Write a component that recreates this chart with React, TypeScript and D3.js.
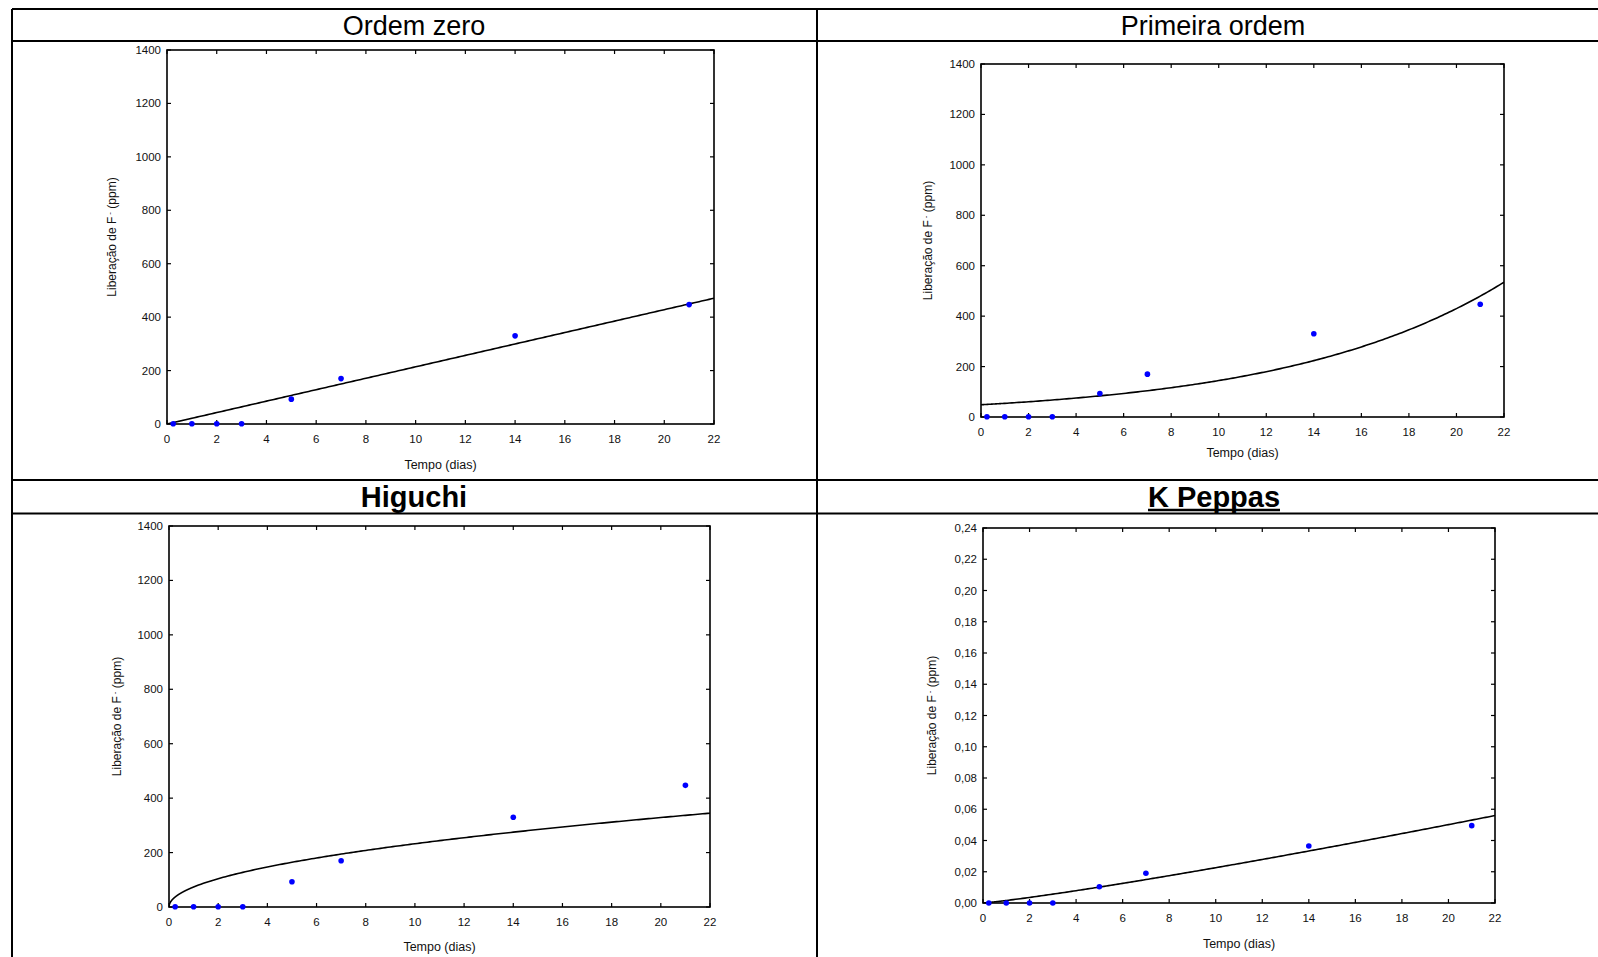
import React from 'react';
import * as d3 from 'd3';

// ---- data ----
const days = [0.25, 1, 2, 3, 5, 7, 14, 21];
const releasePpm = [1, 1, 1, 1, 93, 170, 330, 447];
const peppasRelease = [0, 0, 0, 0, 0.0104, 0.019, 0.0365, 0.0495];
const xTicks = [0, 2, 4, 6, 8, 10, 12, 14, 16, 18, 20, 22];
const ppmTicks = [0, 200, 400, 600, 800, 1000, 1200, 1400];
const peppasTicks = [0, 0.02, 0.04, 0.06, 0.08, 0.1, 0.12, 0.14, 0.16, 0.18, 0.2, 0.22, 0.24];
const panelTitles = ['Ordem zero', 'Primeira ordem', 'Higuchi', 'K Peppas'];
const xAxisTitle = 'Tempo (dias)';

// fitted model parameters
const zeroOrderSlope = 21.4;
const firstOrderC0 = 48.6;
const firstOrderK = 0.109;
const higuchiK = 73.5;
const peppasK = 0.0016;
const peppasN = 1.15;

const models: ((t: number) => number)[] = [
  (t) => zeroOrderSlope * t,
  (t) => firstOrderC0 * Math.exp(firstOrderK * t),
  (t) => higuchiK * Math.sqrt(t),
  (t) => peppasK * Math.pow(t, peppasN),
];

// ---- layout ----
const W = 1598;
const H = 957;
const FONT = '"Liberation Sans", Arial, Helvetica, sans-serif';

type Layout = {
  l: number; r: number; t: number; b: number;
  tickLabelY: number; xTitleY: number; yTitleX: number;
  titleX: number; titleY: number; bold: boolean; underline: boolean; titleSize: number;
};

const layouts: Layout[] = [
  { l: 167, r: 714, t: 50, b: 424, tickLabelY: 443, xTitleY: 469, yTitleX: 116, titleX: 414, titleY: 35, bold: false, underline: false, titleSize: 27 },
  { l: 981, r: 1504, t: 64, b: 417, tickLabelY: 436, xTitleY: 457, yTitleX: 932, titleX: 1213, titleY: 35, bold: false, underline: false, titleSize: 27 },
  { l: 169, r: 710, t: 526, b: 907, tickLabelY: 926, xTitleY: 951, yTitleX: 121, titleX: 414, titleY: 507, bold: true, underline: false, titleSize: 29 },
  { l: 983, r: 1495, t: 528, b: 903, tickLabelY: 922, xTitleY: 948, yTitleX: 936, titleX: 1214, titleY: 507, bold: true, underline: true, titleSize: 29 },
];

const fmtComma = (v: number) => v.toFixed(2).replace('.', ',');

function Panel({ idx }: { idx: number }) {
  const L = layouts[idx];
  const isPeppas = idx === 3;
  const yTicks = isPeppas ? peppasTicks : ppmTicks;
  const yVals = isPeppas ? peppasRelease : releasePpm;
  const x = d3.scaleLinear().domain([0, 22]).range([L.l, L.r]);
  const y = d3.scaleLinear().domain([0, yTicks[yTicks.length - 1]]).range([L.b, L.t]);
  const model = models[idx];
  const samples = d3.range(0, 1, 0.005).concat(d3.range(1, 22.0001, 0.1));
  const path = d3.line<number>().x((d) => x(d)).y((d) => y(model(d)))(samples) || '';
  const tk = 4;
  const fmt = isPeppas ? fmtComma : (v: number) => String(v);
  const cy = (L.t + L.b) / 2;
  return (
    <g>
      <defs>
        <clipPath id={`clip${idx}`}>
          <rect x={L.l} y={L.t} width={L.r - L.l} height={L.b - L.t} />
        </clipPath>
      </defs>
      {xTicks.map((v) => (
        <g key={'xt' + v}>
          <line x1={x(v)} x2={x(v)} y1={L.b} y2={L.b - tk} stroke="#000" strokeWidth={1.2} />
          <line x1={x(v)} x2={x(v)} y1={L.t} y2={L.t + tk} stroke="#000" strokeWidth={1.2} />
          <text x={x(v)} y={L.tickLabelY} textAnchor="middle" fontSize={11.5} fontFamily={FONT} fill="#111">{v}</text>
        </g>
      ))}
      {yTicks.map((v) => (
        <g key={'yt' + v}>
          <line x1={L.l} x2={L.l + tk} y1={y(v)} y2={y(v)} stroke="#000" strokeWidth={1.2} />
          <line x1={L.r} x2={L.r - tk} y1={y(v)} y2={y(v)} stroke="#000" strokeWidth={1.2} />
          <text x={L.l - 6} y={y(v) + 4} textAnchor="end" fontSize={11.5} fontFamily={FONT} fill="#111">{fmt(v)}</text>
        </g>
      ))}
      <rect x={L.l} y={L.t} width={L.r - L.l} height={L.b - L.t} fill="none" stroke="#000" strokeWidth={1.6} />
      <path d={path} fill="none" stroke="#000" strokeWidth={1.6} clipPath={`url(#clip${idx})`} />
      {days.map((d, i) => (
        <circle key={'p' + i} cx={x(d)} cy={y(yVals[i])} r={2.8} fill="#0000ff" />
      ))}
      <text x={(L.l + L.r) / 2} y={L.xTitleY} textAnchor="middle" fontSize={12.5} fontFamily={FONT} fill="#111">{xAxisTitle}</text>
      <text transform={`translate(${L.yTitleX},${cy}) rotate(-90)`} textAnchor="middle" fontSize={12} fontFamily={FONT} fill="#111">
        Liberação de F<tspan fontSize={8} dx={2} dy={-4}>-</tspan><tspan dy={4}> (ppm)</tspan>
      </text>
      <text x={L.titleX} y={L.titleY} textAnchor="middle" fontSize={L.titleSize} fontWeight={L.bold ? 'bold' : 'normal'} fontFamily={FONT} fill="#000">
        {panelTitles[idx]}
      </text>
      {L.underline && (
        <line x1={L.titleX - 66} x2={L.titleX + 66} y1={L.titleY + 3} y2={L.titleY + 3} stroke="#000" strokeWidth={2.5} />
      )}
    </g>
  );
}

export default function App() {
  const left = 12, top = 9, mid = 817, line1 = 41, rowDiv = 480, line2 = 513.5;
  return (
    <svg width={W} height={H} style={{ position: 'absolute', left: 0, top: 0, background: '#fff' }}>
      <rect x={0} y={0} width={W} height={H} fill="#fff" />
      <g stroke="#000" strokeWidth={2}>
        <line x1={left} x2={W} y1={top} y2={top} />
        <line x1={left} x2={W} y1={line1} y2={line1} />
        <line x1={left} x2={W} y1={rowDiv} y2={rowDiv} />
        <line x1={left} x2={W} y1={line2} y2={line2} />
        <line x1={left} x2={left} y1={top} y2={H} />
        <line x1={mid} x2={mid} y1={top} y2={H} />
      </g>
      {[0, 1, 2, 3].map((i) => (
        <Panel key={i} idx={i} />
      ))}
    </svg>
  );
}
